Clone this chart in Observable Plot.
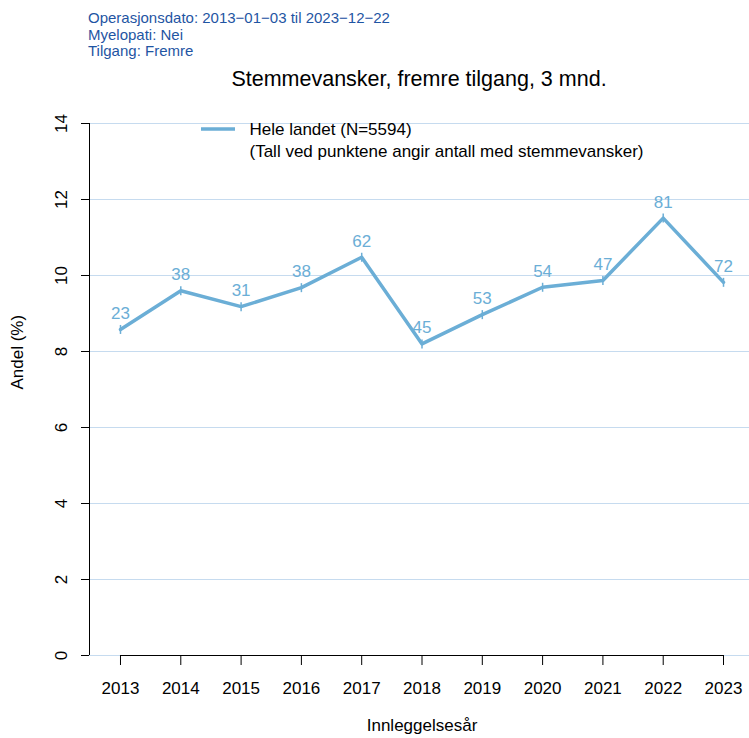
<!DOCTYPE html>
<html>
<head>
<meta charset="utf-8">
<script src="https://cdn.jsdelivr.net/npm/d3@7"></script>
<script src="https://cdn.jsdelivr.net/npm/@observablehq/plot@0.6"></script>
<style>
  html, body { margin: 0; padding: 0; background: #fff; }
  #wrap { position: relative; width: 749px; height: 738px; font-family: "Liberation Sans", Arial, Helvetica, sans-serif; }
  #info { position: absolute; left: 88px; top: 10px; color: #1f55a3; font-size: 15px; line-height: 16.5px; }
  #title { position: absolute; left: 89px; width: 660px; top: 67px; text-align: center; font-size: 21.5px; color: #000; }
  #chart { position: absolute; left: 0; top: 0; }
</style>
</head>
<body>
<div id="wrap">
  <div id="chart"></div>
  <div id="info">Operasjonsdato: 2013−01−03 til 2023−12−22<br>Myelopati: Nei<br>Tilgang: Fremre</div>
  <div id="title">Stemmevansker, fremre tilgang, 3 mnd.</div>
</div>
<script>
const years = [2013, 2014, 2015, 2016, 2017, 2018, 2019, 2020, 2021, 2022, 2023];
const andel = [8.58, 9.6, 9.18, 9.68, 10.48, 8.2, 8.97, 9.69, 9.87, 11.51, 9.82];
const antall = [23, 38, 31, 38, 62, 45, 53, 54, 47, 81, 72];
const yTicks = [0, 2, 4, 6, 8, 10, 12, 14];
const legendLabel = "Hele landet (N=5594)";
const legendNote = "(Tall ved punktene angir antall med stemmevansker)";

const data = years.map((y, i) => ({year: y, andel: andel[i], n: antall[i]}));
const lineColor = "#6baed6";
const fs = 17;

const bar = {
  draw(ctx, size) {
    const h = 4.5;
    ctx.moveTo(0, -h);
    ctx.lineTo(0, h);
  }
};

const chart = Plot.plot({
  width: 749,
  height: 738,
  marginTop: 123,
  marginBottom: 83,
  marginLeft: 89,
  marginRight: 0,
  style: {fontFamily: "'Liberation Sans', Arial, Helvetica, sans-serif", background: "transparent"},
  x: {domain: [2012.486, 2023.431], axis: null},
  y: {domain: [0, 14], axis: null},
  marks: [
    Plot.ruleY(yTicks, {stroke: "#c6dbef", strokeWidth: 1}),
    // y axis line
    Plot.ruleX([2012.486], {y1: 0, y2: 14, stroke: "#000", strokeWidth: 1}),
    Plot.axisY(yTicks, {anchor: "left", tickSize: 8, tickPadding: 15, fontSize: fs, tickRotate: -90, stroke: "#000", fill: "#000", label: null}),
    Plot.text(["Andel (%)"], {frameAnchor: "left", dx: -72, rotate: -90, fontSize: fs, fill: "#000"}),
    // x axis line
    Plot.ruleY([0], {x1: years[0], x2: years[years.length - 1], stroke: "#000", strokeWidth: 1}),
    Plot.axisX(years, {anchor: "bottom", tickSize: 10, tickPadding: 16, fontSize: fs, tickFormat: d => String(d), stroke: "#000", fill: "#000", label: null}),
    Plot.text(["Innleggelsesår"], {frameAnchor: "bottom", x: () => 2018, dy: 75, fontSize: fs, fill: "#000"}),
    // series
    Plot.line(data, {x: "year", y: "andel", stroke: lineColor, strokeWidth: 3.5}),
    Plot.dot(data, {x: "year", y: "andel", symbol: bar, stroke: lineColor, strokeWidth: 1.5, r: 4}),
    Plot.text(data, {x: "year", y: "andel", text: "n", dy: -16, fill: lineColor, fontSize: fs}),
    // legend
    Plot.text([legendLabel], {frameAnchor: "top-left", dx: 160, dy: -1, fill: "#000", fontSize: fs, textAnchor: "start"}),
    Plot.text([legendNote], {frameAnchor: "top-left", dx: 160, dy: 21, fill: "#000", fontSize: fs, textAnchor: "start"})
  ]
});

// legend swatch line
const svg = d3.select(chart);
svg.append("line").attr("x1", 201).attr("x2", 235).attr("y1", 129).attr("y2", 129)
  .attr("stroke", lineColor).attr("stroke-width", 3.5);

document.getElementById("chart").appendChild(chart);
</script>
</body>
</html>
